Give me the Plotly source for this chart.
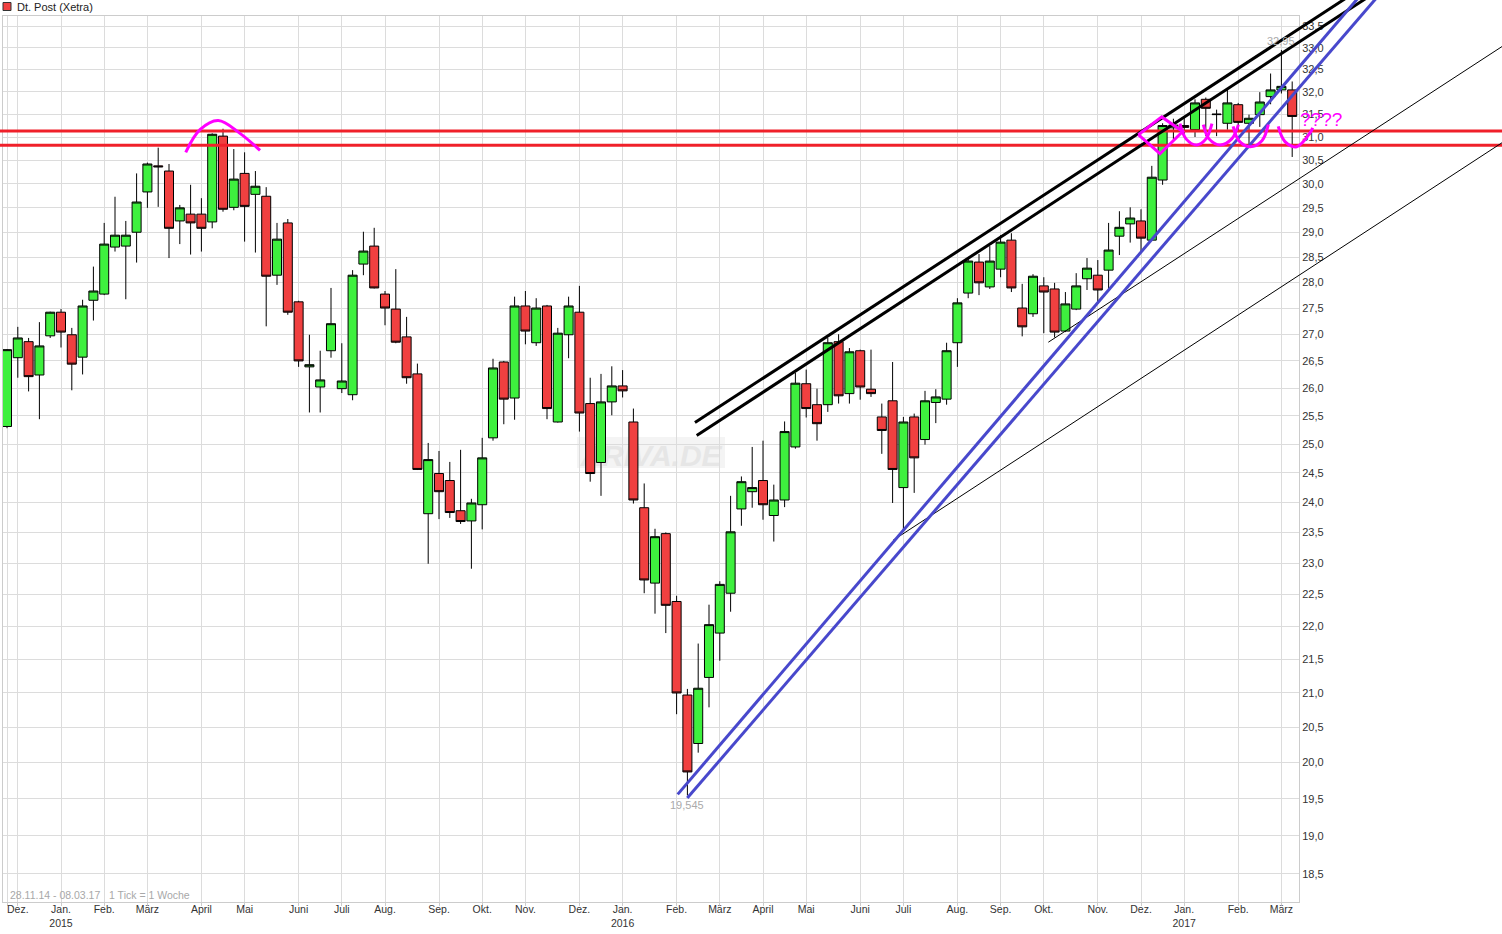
import math
import pandas as pd
import plotly.graph_objects as go

# ---------------- data (weekly candles, Dt. Post Xetra) ----------------
week_start = "2014-11-24"
n_weeks = 120
open_ = [25.31, 26.56, 26.86, 26.24, 26.97, 27.42, 26.99, 26.57, 27.65, 27.77,
         28.70, 28.72, 29.00, 29.83, 30.38, 30.27, 29.23, 29.37, 29.37, 29.21,
         31.02, 29.51, 30.22, 29.78, 29.74, 28.14, 29.19, 27.62, 26.39, 26.02,
         26.69, 25.99, 25.88, 28.36, 28.72, 27.77, 27.48, 26.95, 26.26, 23.81,
         24.49, 24.37, 23.86, 23.69, 23.96, 25.11, 26.48, 25.82, 27.54, 26.84,
         27.54, 25.39, 26.99, 27.42, 25.72, 24.68, 25.75, 26.04, 25.39, 23.91,
         22.68, 23.48, 22.39, 20.97, 20.27, 21.23, 21.90, 22.52, 23.89, 24.18,
         24.37, 23.78, 24.04, 24.95, 26.08, 25.70, 25.70, 26.86, 25.90, 26.69,
         25.98, 25.48, 25.77, 24.25, 25.48, 25.08, 25.74, 25.80, 26.84, 27.79,
         28.40, 27.91, 28.26, 28.84, 27.50, 27.39, 27.93, 27.87, 27.06, 27.48,
         28.07, 28.14, 28.24, 28.92, 29.17, 29.23, 28.84, 30.08, 31.20, 31.25,
         31.16, 31.83, 31.49, 31.30, 31.71, 31.30, 31.49, 31.89, 32.04, 32.04]
high = [26.72, 27.14, 26.93, 27.23, 27.43, 27.48, 27.12, 27.66, 28.31, 29.19,
        29.73, 29.23, 30.22, 30.45, 30.77, 30.42, 29.56, 29.98, 29.70, 31.08,
        31.18, 30.74, 30.67, 30.27, 29.93, 29.19, 29.27, 27.64, 26.99, 26.69,
        27.89, 26.83, 28.24, 29.01, 29.09, 27.83, 28.26, 27.33, 26.45, 25.02,
        24.88, 24.69, 24.90, 24.06, 25.11, 26.54, 26.50, 27.72, 27.83, 27.69,
        27.56, 27.12, 27.72, 27.93, 26.19, 26.26, 26.40, 26.33, 25.63, 24.32,
        23.56, 23.50, 22.48, 21.06, 21.74, 22.34, 22.71, 24.11, 24.44, 24.95,
        25.06, 24.30, 25.40, 26.28, 26.34, 25.99, 26.93, 27.00, 26.74, 26.71,
        26.71, 25.72, 26.48, 25.48, 25.54, 25.95, 25.98, 26.84, 27.69, 28.49,
        28.56, 28.72, 28.94, 28.98, 27.97, 28.16, 28.10, 27.99, 27.81, 28.18,
        28.48, 28.44, 29.19, 29.43, 29.51, 29.47, 30.38, 31.30, 31.40, 31.45,
        31.83, 31.87, 31.60, 32.04, 31.75, 31.49, 31.99, 32.41, 32.95, 32.23]
low = [25.28, 26.19, 25.94, 25.44, 26.93, 26.75, 25.96, 26.25, 27.26, 27.75,
       28.61, 27.67, 28.39, 29.50, 29.52, 28.48, 28.76, 28.55, 28.61, 29.08,
       29.42, 29.45, 28.81, 28.59, 27.15, 27.95, 27.37, 26.39, 25.56, 25.56,
       26.56, 25.91, 25.78, 28.14, 27.88, 27.17, 26.83, 26.08, 24.55, 22.99,
       23.72, 23.74, 23.64, 22.91, 23.55, 25.06, 25.35, 25.43, 26.81, 26.78,
       25.44, 25.38, 26.55, 25.22, 24.35, 24.11, 25.51, 25.83, 23.98, 22.52,
       22.20, 21.90, 20.69, 19.545, 20.14, 20.79, 21.48, 22.23, 23.61, 23.91,
       23.71, 23.35, 23.92, 24.92, 25.47, 25.06, 25.57, 25.72, 25.72, 25.79,
       25.84, 24.83, 23.99, 23.51, 24.16, 24.99, 25.37, 25.70, 26.39, 27.69,
       27.75, 27.87, 28.10, 27.81, 26.96, 27.33, 27.02, 26.94, 27.04, 27.46,
       27.85, 27.58, 27.85, 28.54, 28.79, 28.60, 28.83, 29.98, 30.95, 31.05,
       31.00, 31.02, 31.02, 31.16, 31.13, 30.77, 31.22, 31.72, 31.96, 30.57]
close = [26.71, 26.93, 26.21, 26.78, 27.42, 27.04, 26.44, 27.54, 27.83, 28.76,
         28.94, 28.94, 29.62, 30.42, 30.36, 29.08, 29.50, 29.19, 29.08, 31.06,
         29.47, 30.10, 29.53, 29.95, 28.12, 28.86, 27.42, 26.50, 26.43, 26.15,
         27.20, 26.13, 28.14, 28.62, 27.89, 27.50, 26.85, 26.19, 24.56, 24.73,
         24.18, 23.83, 23.68, 23.99, 24.76, 26.37, 25.80, 27.54, 27.06, 27.50,
         25.63, 27.02, 27.54, 25.55, 24.49, 25.75, 26.04, 25.95, 24.04, 22.73,
         23.43, 22.33, 21.00, 19.87, 21.07, 22.03, 22.66, 23.51, 24.35, 24.25,
         23.96, 24.04, 25.22, 26.09, 25.63, 25.36, 26.84, 25.86, 26.67, 26.02,
         25.90, 25.24, 24.56, 25.39, 24.76, 25.77, 25.84, 26.69, 27.60, 28.42,
         27.99, 28.42, 28.80, 27.89, 27.14, 28.12, 27.81, 27.04, 27.58, 27.93,
         28.28, 27.85, 28.64, 29.10, 29.29, 28.88, 30.14, 31.25, 31.26, 31.21,
         31.75, 31.63, 31.50, 31.75, 31.32, 31.41, 31.77, 32.04, 32.12, 31.45]

month_names = {1: "Jan.", 2: "Feb.", 3: "März", 4: "April", 5: "Mai", 6: "Juni",
               7: "Juli", 8: "Aug.", 9: "Sep.", 10: "Okt.", 11: "Nov.", 12: "Dez."}
y_ticks = [18.5, 19.0, 19.5, 20.0, 20.5, 21.0, 21.5, 22.0, 22.5, 23.0, 23.5, 24.0,
           24.5, 25.0, 25.5, 26.0, 26.5, 27.0, 27.5, 28.0, 28.5, 29.0, 29.5, 30.0,
           30.5, 31.0, 31.5, 32.0, 32.5, 33.0, 33.5]

# chart drawings (week index, price)
red_levels = [31.13, 30.82]
arc_idx = [16.55, 17.87, 19.56, 21.57, 23.43]
arc_px = [30.67, 31.16, 31.36, 31.08, 30.71]
black_upper = ([63.70, 125.18], [25.38, 34.37])
black_lower = ([63.86, 127.06], [25.15, 34.37])
blue_1 = ([62.10, 125.76], [19.56, 34.37])
blue_2 = ([62.99, 127.46], [19.51, 34.37])
thin_1 = ([96.42, 139.17], [26.85, 33.15])
thin_2 = ([82.04, 139.17], [23.37, 30.99])
diamond = ([104.75, 106.92, 108.86, 106.76, 104.75], [31.05, 31.44, 31.12, 30.64, 31.05])
waves = [
    ([108.61, 109.17, 110.16, 111.02, 111.57], [31.29, 30.96, 30.83, 30.96, 31.29]),
    ([110.77, 111.30, 112.31, 113.40, 114.02], [31.27, 30.96, 30.83, 30.96, 31.27]),
    ([113.53, 114.07, 115.09, 116.20, 116.79], [31.23, 30.92, 30.79, 30.92, 31.27]),
    ([117.71, 118.33, 119.42, 120.65, 120.90], [31.23, 30.90, 30.79, 31.09, 31.20]),
]
question_pos = (121.67, 31.38)

# ---------------- layout geometry ----------------
W, H = 1502, 934
XL, XR = 2.5, 1299.0          # plot area in px
YT, YB = 15.7, 901.5
x_range = [-0.4167, 119.63]
y_range = [18.146, 33.75]
ly = [math.log10(v) for v in y_range]
ppx = (XR - XL) / (x_range[1] - x_range[0])
ppy = (YB - YT) / (ly[1] - ly[0])
x2_range = [x_range[0] - XL / ppx, x_range[1] + (W - XR) / ppx]
y2_range = [ly[0] - (H - YB) / ppy, ly[1] + YT / ppy]

weeks = pd.date_range(week_start, periods=n_weeks, freq="W-MON")
idx = list(range(n_weeks))

tickvals, ticktext = [0], [""]
for ms in pd.date_range("2014-12-01", "2017-03-01", freq="MS"):
    i = (ms - weeks[0]).days // 7
    lab = month_names[ms.month]
    if ms.month == 1:
        lab += "<br>" + str(ms.year)
    tickvals.append(i)
    ticktext.append(lab)

FONT = "Liberation Sans, Arial, sans-serif"

fig = go.Figure()
fig.add_trace(go.Candlestick(
    x=idx, open=open_, high=high, low=low, close=close,
    text=[d.strftime("%d.%m.%Y") for d in weeks],
    increasing=dict(fillcolor="#3ef03e", line=dict(color="#000000", width=1)),
    decreasing=dict(fillcolor="#f04040", line=dict(color="#000000", width=1)),
    whiskerwidth=0, xaxis="x", yaxis="y", showlegend=False,
))

def add_line(xs, ys, color, width, shape="linear"):
    fig.add_trace(go.Scatter(x=xs, y=ys, mode="lines",
                             line=dict(color=color, width=width, shape=shape, smoothing=1),
                             xaxis="x2", yaxis="y2", hoverinfo="skip", showlegend=False))

for lv in red_levels:
    add_line(x2_range, [lv, lv], "#f0202a", 3)
add_line(*thin_1, "#000000", 1)
add_line(*thin_2, "#000000", 1)
add_line(*black_upper, "#000000", 3)
add_line(*black_lower, "#000000", 3)
add_line(*blue_1, "#4848cc", 3)
add_line(*blue_2, "#4848cc", 3)
add_line(arc_idx, arc_px, "#ff00ff", 3, "spline")
add_line(*diamond, "#ff00ff", 3)
for wx, wy in waves:
    add_line(wx, wy, "#ff00ff", 3, "spline")

axis_font = dict(family=FONT, size=11, color="#333333")
fig.update_layout(
    template="none",
    width=W, height=H,
    margin=dict(l=0, r=0, t=0, b=0),
    paper_bgcolor="white", plot_bgcolor="rgba(0,0,0,0)",
    showlegend=False,
    boxgap=0.12, boxgroupgap=0.05,
    xaxis=dict(domain=[XL / W, XR / W], range=x_range, anchor="y",
               tickmode="array", tickvals=tickvals, ticktext=ticktext,
               showgrid=True, gridcolor="#dcdcdc", gridwidth=1,
               showline=True, mirror=True, linecolor="#cccccc", linewidth=1,
               ticks="outside", ticklen=3, tickcolor="#cccccc",
               ticklabelstandoff=-5,
               tickfont=dict(family=FONT, size=10.5, color="#333333"),
               zeroline=False, rangeslider=dict(visible=False)),
    yaxis=dict(domain=[1 - YB / H, 1 - YT / H], type="log", range=ly, anchor="x",
               side="right", tickmode="array", tickvals=y_ticks,
               ticktext=[f"{v:.1f}".replace(".", ",") for v in y_ticks],
               showgrid=True, gridcolor="#dcdcdc", gridwidth=1,
               showline=True, mirror=True, linecolor="#cccccc", linewidth=1,
               ticks="", tickfont=axis_font, zeroline=False),
    xaxis2=dict(domain=[0, 1], range=x2_range, anchor="y2", visible=False),
    yaxis2=dict(domain=[0, 1], type="log", range=y2_range, anchor="x2", visible=False),
)

# watermark
fig.add_shape(type="rect", xref="paper", yref="paper", layer="below",
              x0=577 / W, x1=725 / W, y0=1 - 468 / H, y1=1 - 437 / H,
              fillcolor="#f4f4f4", line=dict(width=0),
              label=dict(text="ARIVA.DE",
                         font=dict(family=FONT, size=30, color="#e6e6e6",
                                   weight="bold", style="italic")))

# legend marker + title
fig.add_shape(type="rect", xref="paper", yref="paper",
              x0=3 / W, x1=11 / W, y0=1 - 10.5 / H, y1=1 - 2.5 / H,
              fillcolor="#f04040", line=dict(color="#333333", width=1))
fig.add_annotation(text="Dt. Post (Xetra)", xref="paper", yref="paper",
                   x=15 / W, y=1 - 6.5 / H, xanchor="left", yanchor="middle",
                   showarrow=False, font=dict(family=FONT, size=11, color="#222222"))
fig.add_annotation(text="28.11.14 - 08.03.17\u00a0\u00a0\u00a01 Tick = 1 Woche",
                   xref="paper", yref="paper", x=8 / W, y=1 - 895 / H,
                   xanchor="left", yanchor="middle", showarrow=False,
                   font=dict(family=FONT, size=10.5, color="#a8a8a8"))

# high / low labels
hi_i = max(idx, key=lambda i: high[i])
lo_i = min(idx, key=lambda i: low[i])
fig.add_annotation(text=f"{high[hi_i]:.2f}".replace(".", ","), x=hi_i,
                   y=math.log10(high[hi_i]), xref="x", yref="y", yshift=9,
                   showarrow=False, font=dict(family=FONT, size=11, color="#aaaaaa"))
fig.add_annotation(text=f"{low[lo_i]:.3f}".replace(".", ","), x=lo_i,
                   y=math.log10(low[lo_i]), xref="x", yref="y", yshift=-10,
                   showarrow=False, font=dict(family=FONT, size=11, color="#aaaaaa"))

fig.add_annotation(text="????", x=question_pos[0], y=math.log10(question_pos[1]),
                   xref="x2", yref="y2", showarrow=False,
                   font=dict(family=FONT, size=19, color="#ff00ff"))

fig.write_html("out.html", config={"displayModeBar": False},
               post_script="document.body.style.margin='0';document.body.style.overflow='hidden';")
